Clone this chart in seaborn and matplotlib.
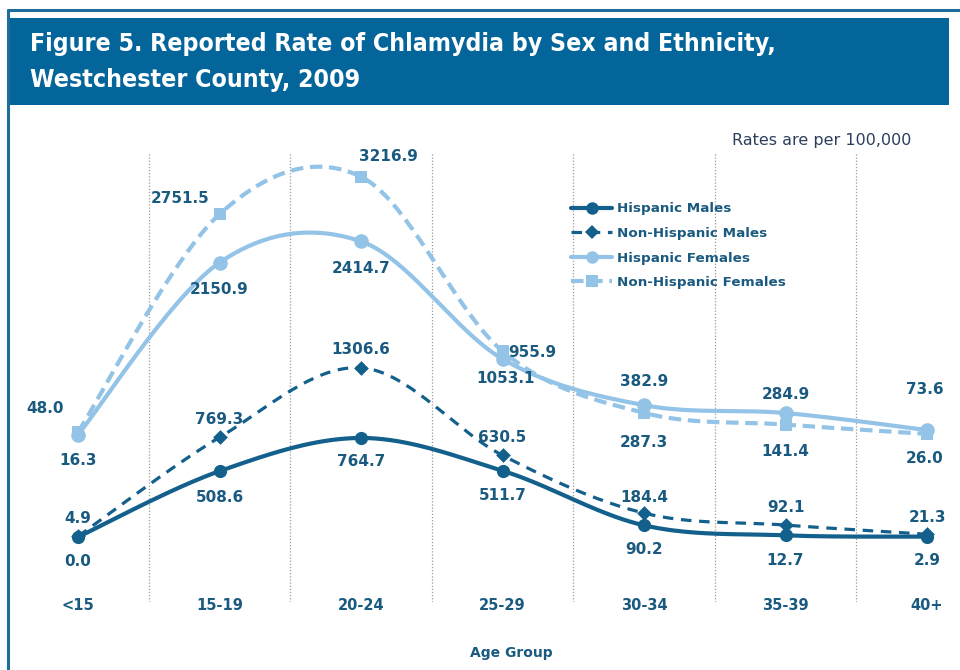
import numpy as np
import pandas as pd
import matplotlib
matplotlib.use("Agg")
import matplotlib.pyplot as plt
from matplotlib.lines import Line2D
from matplotlib.patches import Rectangle
import seaborn as sns

# ---- data -------------------------------------------------------------
age_groups = ["<15", "15-19", "20-24", "25-29", "30-34", "35-39", "40+"]
hispanic_males = [0.0, 508.6, 764.7, 511.7, 90.2, 12.7, 2.9]
non_hispanic_males = [4.9, 769.3, 1306.6, 630.5, 184.4, 92.1, 21.3]
hispanic_females = [16.3, 2150.9, 2414.7, 955.9, 382.9, 284.9, 73.6]
non_hispanic_females = [48.0, 2751.5, 3216.9, 1053.1, 287.3, 141.4, 26.0]

title = "Figure 5. Reported Rate of Chlamydia by Sex and Ethnicity,\nWestchester County, 2009"
note = "Rates are per 100,000"
x_label = "Age Group"

# ---- style ------------------------------------------------------------
DARK = "#13608C"
LIGHT = "#93C3E6"
TEXT = "#1A5A80"
BANNER = "#04659A"

sns.set_theme(style="white")
plt.rcParams["font.family"] = ["DejaVu Sans"]

# label offsets (pixels) for each series, one per age group
off_hm = [(0, -25), (0, -26), (0, -24), (0, -25), (0, -24), (0, -25), (0, -24)]
off_nhm = [(0, 18), (0, 18), (0, 18), (0, 18), (0, 16), (0, 18), (0, 17)]
off_hf = [(0, -26), (0, -27), (0, -27), (30, 6), (0, 24), (0, 19), (-2, 41)]
off_nhf = [(-33, 24), (-39, 16), (27, 20), (3, -27), (0, -30), (0, -27), (-2, -25)]

W, H = 960, 670
fig = plt.figure(figsize=(W / 100, H / 100), dpi=100)


def fx(px):
    return px / W


def fy(py):
    return 1 - py / H


# outer frame and title banner
fig.add_artist(Line2D([fx(8), fx(960)], [fy(9.5), fy(9.5)], color="#1F6E9A", lw=2.2))
fig.add_artist(Line2D([fx(8), fx(8)], [fy(9.5), fy(670)], color="#1F6E9A", lw=2.2))
fig.add_artist(Rectangle((fx(10), fy(105)), fx(939), (87 / H), color=BANNER, lw=0))
fig.text(fx(30), fy(62), title, color="white", fontsize=17.8, fontweight="bold",
         fontstretch="condensed", va="center", ha="left", linespacing=1.6)

# plotting area: pixel box 30..950 x 152..602
ax_l, ax_r, ax_t, ax_b = 30, 950, 152, 602
ax = fig.add_axes([fx(ax_l), fy(ax_b), fx(ax_r - ax_l), (ax_b - ax_t) / H])
ax2 = ax.twinx()

x = np.arange(len(age_groups))
px_per_cat = 141.5
x0_px = 78
ax.set_xlim(-(x0_px - ax_l) / px_per_cat, 6 + (ax_r - (x0_px + 6 * px_per_cat)) / px_per_cat)

# males on the primary scale, females on the secondary scale
m_zero, m_scale = 537, 0.1295
f_zero, f_scale = 436, 0.0806
ax.set_ylim(-(ax_b - m_zero) / m_scale, (m_zero - ax_t) / m_scale)
ax2.set_ylim(-(ax_b - f_zero) / f_scale, (f_zero - ax_t) / f_scale)

for a in (ax, ax2):
    for s in a.spines.values():
        s.set_visible(False)
    a.set_yticks([])
    a.set_ylabel("")
    a.grid(False)
ax.set_xticks([])
ax.patch.set_alpha(0)

# dotted separators between age groups
for b in np.arange(0.5, 6, 1.0):
    ax.axvline(b, color="#9A9A9A", lw=0.9, ls=(0, (1, 1.5)), zorder=0)


def smooth(xs, ys, n=40):
    """Catmull-Rom curve through the points (Excel-like smoothed line)."""
    xs = np.asarray(xs, float)
    ys = np.asarray(ys, float)
    px = np.concatenate([[xs[0]], xs, [xs[-1]]])
    py = np.concatenate([[ys[0]], ys, [ys[-1]]])
    outx, outy = [], []
    t = np.linspace(0, 1, n)
    for i in range(1, len(px) - 2):
        p0, p1, p2, p3 = (np.array([px[j], py[j]]) for j in (i - 1, i, i + 1, i + 2))
        c1 = p1 + (p2 - p0) / 6
        c2 = p2 - (p3 - p1) / 6
        b = ((1 - t) ** 3)[:, None] * p1 + (3 * (1 - t) ** 2 * t)[:, None] * c1 \
            + (3 * (1 - t) * t ** 2)[:, None] * c2 + (t ** 3)[:, None] * p2
        if i > 1:
            b = b[1:]
        outx.extend(b[:, 0])
        outy.extend(b[:, 1])
    return np.array(outx), np.array(outy)


# name, values, axis, colour, linestyle, marker, marker size, legend marker size, line width, offsets
series = [
    ("Hispanic Males", hispanic_males, ax, DARK, "-", "o", 9.5, 9, 3.0, off_hm),
    ("Non-Hispanic Males", non_hispanic_males, ax, DARK, (0, (3.3, 2.4)), "D", 7.5, 7, 2.3, off_nhm),
    ("Hispanic Females", hispanic_females, ax2, LIGHT, "-", "o", 10.5, 9, 3.0, off_hf),
    ("Non-Hispanic Females", non_hispanic_females, ax2, LIGHT, (0, (3.0, 1.6)), "s", 9, 9, 3.0, off_nhf),
]

handles = []
for name, vals, a, col, ls, mk, ms, lms, lw, offs in series:
    sx, sy = smooth(x, vals)
    curve = pd.DataFrame({"x": sx, "y": sy})
    sns.lineplot(data=curve, x="x", y="y", ax=a, color=col, lw=lw, sort=False,
                 estimator=None, zorder=3)
    a.lines[-1].set_linestyle(ls)
    a.lines[-1].set_dash_capstyle("butt")
    pts = pd.DataFrame({"x": x, "y": vals})
    sns.scatterplot(data=pts, x="x", y="y", ax=a, color=col, marker=mk, s=ms ** 2,
                    edgecolor=col, linewidth=0, zorder=4)
    for xi, v, (dx, dy) in zip(x, vals, offs):
        a.annotate(f"{v:.1f}", (xi, v), xytext=(dx, dy), textcoords="offset pixels",
                   ha="center", va="center", fontsize=11, fontweight="bold",
                   color=TEXT, zorder=6)
    handles.append(Line2D([], [], color=col, lw=lw, ls=ls, marker=mk, markersize=lms,
                          markeredgewidth=0, label=name))

for a in (ax, ax2):
    a.set_xlabel("")
    a.set_ylabel("")
    a.set_yticks([])
    if a.get_legend():
        a.get_legend().remove()

leg = ax2.legend(handles=handles, loc="upper left",
                 bbox_to_anchor=((566 - ax_l) / (ax_r - ax_l), 1 - (197 - ax_t) / (ax_b - ax_t)),
                 frameon=False, handlelength=3.0, handletextpad=0.4, labelspacing=0.86,
                 prop={"weight": "bold", "size": 9.7}, borderaxespad=0)
for t in leg.get_texts():
    t.set_color(TEXT)

# category labels
for xi, lab in zip(x, age_groups):
    ax.text(xi, -(605 - m_zero) / m_scale, lab, ha="center", va="center", fontsize=10.5,
            fontweight="bold", color=TEXT)

fig.text(fx(822), fy(140), note, ha="center", va="center", fontsize=11.5, color="#2B3F5C")
fig.text(fx(511), fy(653), x_label, ha="center", va="center", fontsize=10,
         fontweight="bold", color=TEXT)

fig.savefig("out.png", dpi=100)
